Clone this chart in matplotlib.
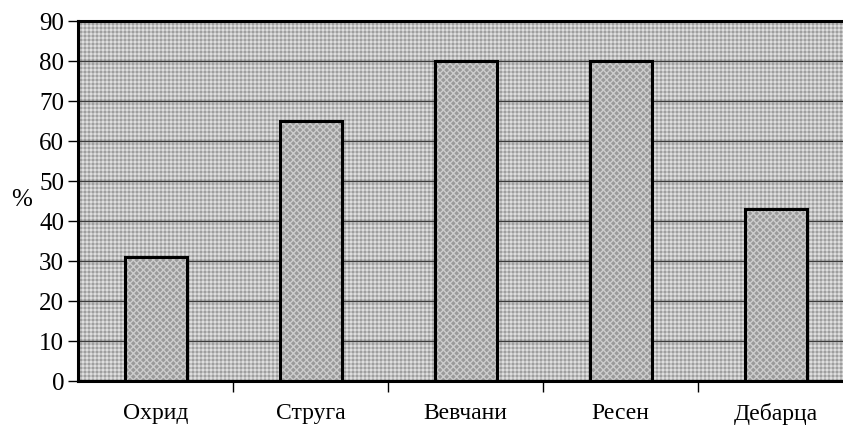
import numpy as np
import matplotlib
matplotlib.use("Agg")
import matplotlib.pyplot as plt

categories = ["Охрид", "Струга", "Вевчани", "Ресен", "Дебарца"]
values = [31, 65, 80, 80, 43]
yticks = [0, 10, 20, 30, 40, 50, 60, 70, 80, 90]
ylabel = "%"

plt.rcParams['font.family'] = ['Liberation Serif', 'DejaVu Serif']

W, H = 843, 433
fig = plt.figure(figsize=(W / 100, H / 100), dpi=100)
left_px, right_px, top_px, bottom_px = 78, 853, 21, 381
ax = fig.add_axes([left_px / W, 1 - bottom_px / H, (right_px - left_px) / W, (bottom_px - top_px) / H])

n = len(categories)
x = np.arange(n)
ax.set_xlim(-0.5, n - 0.5)
ax.set_ylim(0, 90)

# textured background
pw, ph = right_px - left_px, bottom_px - top_px
yy, xx = np.mgrid[0:ph, 0:pw]
light = ((xx % 4) < 2) | ((yy % 4) < 2)
bg = np.where(((xx % 4) < 2) & ((yy % 4) < 2), 0.87, np.where(light, 0.75, 0.62))
ax.imshow(bg, cmap='gray', vmin=0, vmax=1, extent=[-0.5, n - 0.5, 0, 90],
          aspect='auto', interpolation='nearest', zorder=0)

for t in yticks[1:-1]:
    ax.axhline(t, color='#3a3a3a', lw=1.0, zorder=1)

ax.bar(x, values, width=0.40, color='#9a9a9a', edgecolor='#cccccc', hatch='xxxxx',
       linewidth=0, zorder=2)
ax.bar(x, values, width=0.40, fill=False, edgecolor='black', linewidth=2.2, zorder=3)

ax.set_yticks(yticks)
ax.set_yticklabels([str(v) for v in yticks], fontsize=18)
ax.tick_params(axis='y', direction='out', length=7, width=1, pad=3, colors='black')

ax.set_xticks(x)
ax.set_xticklabels(categories, fontsize=17)
ax.tick_params(axis='x', which='major', length=0, pad=16)
ax.set_xticks(np.arange(0.5, n - 0.5, 1), minor=True)
ax.tick_params(axis='x', which='minor', direction='out', length=8, width=1)

for side in ['left', 'bottom', 'top']:
    ax.spines[side].set_linewidth(2.2)
ax.spines['right'].set_visible(False)

fig.text(22 / W, 1 - 200 / H, ylabel, fontsize=18, ha='center', va='center')

fig.savefig("out.png", dpi=100)
